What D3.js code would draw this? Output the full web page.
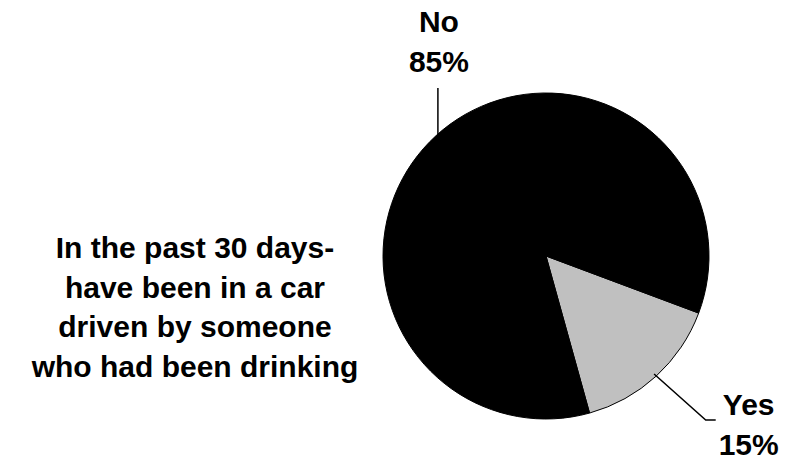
<!DOCTYPE html>
<html>
<head>
<meta charset="utf-8">
<script src="https://cdn.jsdelivr.net/npm/d3@7"></script>
<style>
  html, body { margin: 0; padding: 0; background: #fff; }
  svg { display: block; }
  text { font-family: "Liberation Sans", Arial, sans-serif; font-weight: bold; fill: #000; }
</style>
</head>
<body>
<svg id="chart" width="787" height="464"></svg>
<script>
const categories = ["Yes", "No"];
const values = [15, 85];
const valueLabels = ["15%", "85%"];
const colors = ["#C0C0C0", "#000000"];
const titleLines = ["In the past 30 days-", "have been in a car", "driven by someone", "who had been drinking"];

const svg = d3.select("#chart");
const cx = 546, cy = 256, r = 163;
const startDeg = 110.5;

const pie = d3.pie().sort(null).value(d => d)
  .startAngle(startDeg * Math.PI / 180)
  .endAngle(startDeg * Math.PI / 180 + 2 * Math.PI);
const arcs = pie(values);
const arc = d3.arc().innerRadius(0).outerRadius(r);

const g = svg.append("g").attr("transform", `translate(${cx},${cy})`);
g.selectAll("path.slice").data(arcs).enter().append("path")
  .attr("class", "slice")
  .attr("d", arc)
  .attr("fill", (d, i) => colors[i])
  .attr("stroke", "#000")
  .attr("stroke-width", 1);

function pt(angle, radius) {
  return [Math.sin(angle) * radius, -Math.cos(angle) * radius];
}

// Leader lines and labels
arcs.forEach((d, i) => {
  const mid = (d.startAngle + d.endAngle) / 2;
  const p0 = pt(mid, r - 3);
  let pts, lx, ly;
  if (categories[i] === "Yes") {
    const p1 = pt(mid - 0.03, r + 66);
    const p2 = [p1[0] + 10, p1[1]];
    pts = [p0, p1, p2];
    lx = p2[0] + 33; ly = p1[1] - 5;
  } else {
    const p1 = [p0[0], -168];
    pts = [p0, p1];
    lx = p0[0] + 1; ly = p1[1] - 56;
  }
  g.append("path")
    .attr("d", d3.line()(pts))
    .attr("fill", "none")
    .attr("stroke", "#000")
    .attr("stroke-width", 1.5);
  const t = g.append("text")
    .attr("text-anchor", "middle")
    .attr("font-size", 30)
    .attr("x", lx).attr("y", ly);
  t.append("tspan").attr("x", lx).attr("dy", 0).text(categories[i]);
  t.append("tspan").attr("x", lx).attr("dy", 40).text(valueLabels[i]);
});

// Left title block
const title = svg.append("text")
  .attr("text-anchor", "middle")
  .attr("font-size", 30)
  .attr("x", 195).attr("y", 258);
titleLines.forEach((line, i) => {
  title.append("tspan").attr("x", 195).attr("dy", i === 0 ? 0 : 39.7).text(line);
});
</script>
</body>
</html>
